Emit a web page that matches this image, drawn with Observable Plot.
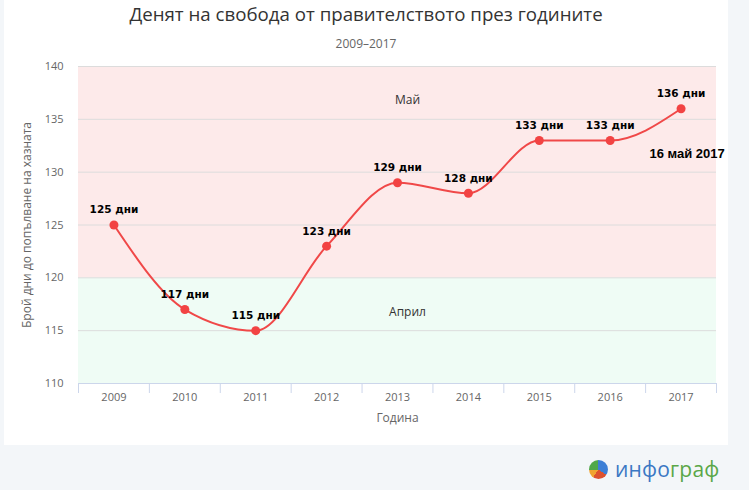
<!DOCTYPE html>
<html><head><meta charset="utf-8">
<script src="https://cdn.jsdelivr.net/npm/d3@7"></script>
<script src="https://cdn.jsdelivr.net/npm/@observablehq/plot@0.6"></script>
<style>
html,body{margin:0;padding:0;background:#f3f6f9;width:749px;height:490px;overflow:hidden;}
#card{position:absolute;left:4px;top:0;width:724px;height:445px;background:#fff;}
#title{position:absolute;left:0;top:2px;width:724px;text-align:center;font:18.7px "Open Sans",sans-serif;line-height:24px;color:#333;}
#subtitle{position:absolute;left:0;top:36px;width:724px;text-align:center;font:12px "Open Sans",sans-serif;line-height:16px;color:#666;}
#chart{position:absolute;left:0;top:56px;}
#logo{position:absolute;left:589px;top:459px;height:20px;display:flex;align-items:center;}
#pie{width:19px;height:19px;border-radius:50%;background:conic-gradient(#3d7fd6 0deg 125deg,#dd5230 125deg 215deg,#f0a431 215deg 265deg,#4fa84a 265deg 360deg);}
#logotext{margin-left:7px;font:21px "Open Sans",sans-serif;line-height:20px;letter-spacing:0.2px;}
</style></head>
<body>
<div id="card">
  <div id="title"></div>
  <div id="subtitle"></div>
  <div id="chart"></div>
</div>
<div id="logo"><div id="pie"></div><div id="logotext"><span style="color:#3b78c4">инфо</span><span style="color:#5aa748">граф</span></div></div>
<script>
const titleText = "Денят на свобода от правителството през годините";
const subtitleText = "2009–2017";
const years = [2009, 2010, 2011, 2012, 2013, 2014, 2015, 2016, 2017];
const days = [125, 117, 115, 123, 129, 128, 133, 133, 136];
const unit = "дни";
const yTicks = [110, 115, 120, 125, 130, 135, 140];
const bandNames = ["Април", "Май"];
const bandFrom = [110, 120];
const bandTo = [120, 140];
const xTitle = "Година";
const yTitle = "Брой дни до попълване на хазната";
const noteText = "16 май 2017";
const noteYear = 2017;

document.getElementById("title").textContent = titleText;
document.getElementById("subtitle").textContent = subtitleText;

const rows = years.map((y, i) => ({year: y, days: days[i]}));
const bands = bandNames.map((n, i) => ({label: n, from: bandFrom[i], to: bandTo[i]}));
const bandFills = ["#effcf5", "#fdeaea"];
const xMin = d3.min(years) - 0.5, xMax = d3.max(years) + 0.5;
const bounds = d3.range(xMin, xMax + 0.01, 1);
const xMid = (xMin + xMax) / 2;
const noteRow = rows.find(r => r.year === noteYear);

const chart = Plot.plot({
  width: 724, height: 389,
  marginLeft: 74, marginRight: 12, marginTop: 10, marginBottom: 62,
  style: {fontFamily: "'Open Sans', sans-serif", background: "transparent", overflow: "visible"},
  x: {domain: [xMin, xMax]},
  y: {domain: [d3.min(yTicks), d3.max(yTicks)]},
  color: {type: "identity"},
  marks: [
    Plot.rect(bands, {x1: xMin, x2: xMax, y1: "from", y2: "to", fill: (d, i) => bandFills[i]}),
    Plot.gridY(yTicks.filter(t => t > d3.min(yTicks)), {stroke: "#dcdcdc", strokeOpacity: 1}),
    Plot.ruleY([d3.min(yTicks)], {stroke: "#ccd6eb"}),
    Plot.axisX({ticks: bounds, tickFormat: () => "", tickSize: 10, stroke: "#ccd6eb", strokeOpacity: 1, label: null}),
    Plot.axisX({ticks: years, tickFormat: d => String(d), tickSize: 0, tickPadding: 10, fontSize: 11, fill: "#666", label: null}),
    Plot.axisY({ticks: yTicks, tickSize: 0, tickPadding: 15, fontSize: 11, fill: "#666", label: null}),
    Plot.text([xTitle], {frameAnchor: "bottom", dy: 38, text: d => d, fontSize: 12, fill: "#666"}),
    Plot.text([yTitle], {frameAnchor: "left", textAnchor: "middle", dx: -51, rotate: -90, text: d => d, fontSize: 12, fill: "#666"}),
    Plot.text(bands, {x: xMid, y: "to", text: "label", dy: 34, dx: 10, fontSize: 12, fill: "#333"}),
    Plot.line(rows, {x: "year", y: "days", curve: "monotone-x", stroke: "#f04848", strokeWidth: 2}),
    Plot.dot(rows, {x: "year", y: "days", r: 4.5, fill: "#f24343", stroke: "none"}),
    Plot.text(rows, {x: "year", y: "days", text: d => `${d.days} ${unit}`, dy: -15, fontSize: 10.5, fontWeight: "bold", fontFamily: "'DejaVu Sans', sans-serif", fill: "#000"}),
    Plot.text([noteRow], {x: "year", y: "days", text: () => noteText, dy: 45, dx: 6, fontSize: 13, fontWeight: "bold", fontFamily: "'Liberation Sans', sans-serif", fill: "#000"})
  ]
});
document.getElementById("chart").appendChild(chart);
</script>
</body></html>
